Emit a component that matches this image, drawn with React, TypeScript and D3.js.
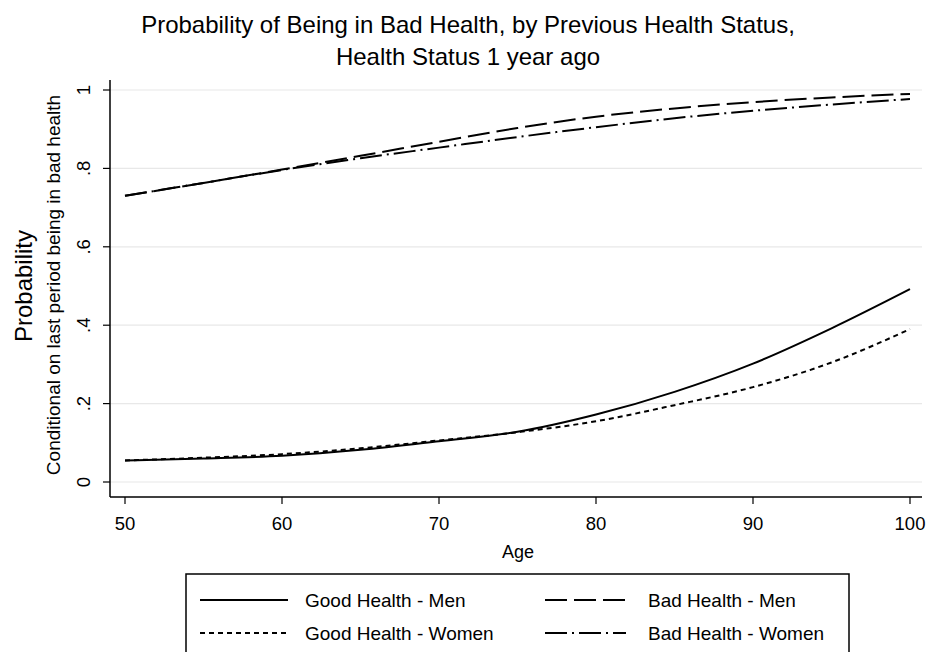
import React from "react";
import * as d3 from "d3";

const ages = [50, 55, 60, 65, 70, 75, 80, 85, 90, 95, 100];
const goodMen = [0.055, 0.06, 0.067, 0.082, 0.104, 0.128, 0.172, 0.23, 0.302, 0.392, 0.492];
const goodWomen = [0.055, 0.062, 0.071, 0.086, 0.106, 0.127, 0.155, 0.196, 0.242, 0.305, 0.39];
const badMen = [0.73, 0.763, 0.797, 0.832, 0.868, 0.903, 0.932, 0.953, 0.969, 0.981, 0.99];
const badWomen = [0.73, 0.763, 0.796, 0.826, 0.853, 0.88, 0.905, 0.928, 0.947, 0.963, 0.977];
const xTicks = [50, 60, 70, 80, 90, 100];
const yTicks = [0, 0.2, 0.4, 0.6, 0.8, 1];
const yTickLabels = ["0", ".2", ".4", ".6", ".8", "1"];
const seriesNames = ["Good Health - Men", "Bad Health - Men", "Good Health - Women", "Bad Health - Women"];

const FONT = "'Liberation Sans', Arial, sans-serif";

export default function App() {
  const W = 930, H = 652;
  const x = d3.scaleLinear().domain([50, 100]).range([125, 910]);
  const y = d3.scaleLinear().domain([0, 1]).range([482, 90]);
  const axisLeft = 110, axisBottom = 497, axisRight = 922;

  const line = d3.line<[number, number]>().x(d => x(d[0])).y(d => y(d[1])).curve(d3.curveMonotoneX);
  const series = [
    { name: seriesNames[0], vals: goodMen, dash: "" },
    { name: seriesNames[1], vals: badMen, dash: "22 7" },
    { name: seriesNames[2], vals: goodWomen, dash: "5 4" },
    { name: seriesNames[3], vals: badWomen, dash: "22 5 2 5" },
  ];

  const legendPos = [
    { x1: 200, x2: 288, tx: 305, ty: 600 },
    { x1: 545, x2: 626, tx: 648, ty: 600 },
    { x1: 200, x2: 288, tx: 305, ty: 633 },
    { x1: 545, x2: 626, tx: 648, ty: 633 },
  ];

  return (
    <svg width={W} height={H} style={{ position: "absolute", left: 0, top: 0, background: "#fff" }}>
      <rect x={0} y={0} width={W} height={H} fill="#fff" />
      <text x={468} y={33} textAnchor="middle" fontFamily={FONT} fontSize={24}>
        Probability of Being in Bad Health, by Previous Health Status,
      </text>
      <text x={468} y={65} textAnchor="middle" fontFamily={FONT} fontSize={24}>
        Health Status 1 year ago
      </text>

      {yTicks.map((t, i) => (
        <g key={i}>
          <line x1={axisLeft} x2={axisRight} y1={y(t)} y2={y(t)} stroke="#e8e8e8" strokeWidth={1.2} />
          <line x1={axisLeft - 7} x2={axisLeft} y1={y(t)} y2={y(t)} stroke="#000" strokeWidth={1.2} />
          <text transform={`translate(${90},${y(t)}) rotate(-90)`} textAnchor="middle"
            fontFamily={FONT} fontSize={18.5}>{yTickLabels[i]}</text>
        </g>
      ))}
      {xTicks.map((t, i) => (
        <g key={i}>
          <line x1={x(t)} x2={x(t)} y1={axisBottom} y2={axisBottom + 7} stroke="#000" strokeWidth={1.2} />
          <text x={x(t)} y={530} textAnchor="middle" fontFamily={FONT} fontSize={18.5}>{t}</text>
        </g>
      ))}
      <line x1={axisLeft} x2={axisLeft} y1={80} y2={axisBottom} stroke="#000" strokeWidth={1.5} />
      <line x1={axisLeft} x2={axisRight} y1={axisBottom} y2={axisBottom} stroke="#000" strokeWidth={1.5} />

      <text x={518} y={558} textAnchor="middle" fontFamily={FONT} fontSize={18}>Age</text>
      <text transform={`translate(32,286) rotate(-90)`} textAnchor="middle" fontFamily={FONT} fontSize={24}>Probability</text>
      <text transform={`translate(60,285) rotate(-90)`} textAnchor="middle" fontFamily={FONT} fontSize={19}>
        Conditional on last period being in bad health
      </text>

      {series.map((s, i) => (
        <path key={i} d={line(ages.map((a, j) => [a, s.vals[j]] as [number, number])) || ""}
          fill="none" stroke="#000" strokeWidth={2} strokeDasharray={s.dash} />
      ))}

      <rect x={186} y={574} width={663} height={100} fill="none" stroke="#000" strokeWidth={1.5} />
      {series.map((s, i) => (
        <g key={i}>
          <line x1={legendPos[i].x1} x2={legendPos[i].x2} y1={legendPos[i].ty} y2={legendPos[i].ty}
            stroke="#000" strokeWidth={2} strokeDasharray={s.dash} />
          <text x={legendPos[i].tx} y={legendPos[i].ty + 7} fontFamily={FONT} fontSize={19}>{s.name}</text>
        </g>
      ))}
    </svg>
  );
}
